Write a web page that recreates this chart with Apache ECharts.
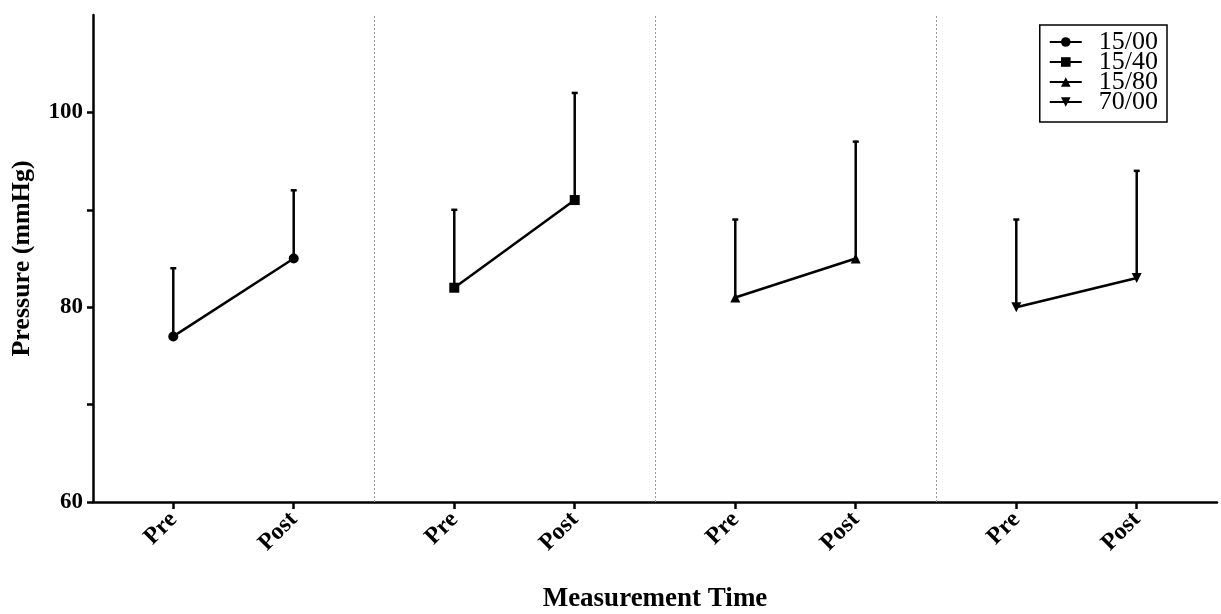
<!DOCTYPE html>
<html>
<head>
<meta charset="utf-8">
<script src="https://cdn.jsdelivr.net/npm/echarts@6/dist/echarts.min.js"></script>
<style>html,body{margin:0;padding:0;background:#fff}#c{width:1221px;height:614px}</style>
</head>
<body>
<div id="c"></div>
<script>
// categories on the x axis (blank slots act as spacing / separators)
const xCategories = ['', '', 'Pre', '', '', 'Post', '', '', '', 'Pre', '', '', 'Post', '', '', '', 'Pre', '', '', 'Post', '', '', '', 'Pre', '', '', 'Post', '', ''];
const separatorSlots = [7, 14, 21];
const groupNames = ['15/00', '15/40', '15/80', '70/00'];
const preSlot = [2, 9, 16, 23];
const postSlot = [5, 12, 19, 26];
const meanPre = [77, 82, 81, 80];
const meanPost = [85, 91, 85, 83];
const errPre = [7, 8, 8, 9];
const errPost = [7, 11, 12, 11];
const yTicks = [60, 70, 80, 90, 100];
const yLabels = [60, 80, 100];
const symbols = ['circle', 'rect', 'triangle', 'path://M0,0 L10,0 L5,9 Z'];

const FONT = '"Liberation Serif", "DejaVu Serif", serif';
const chart = echarts.init(document.getElementById('c'));

const series = [];
groupNames.forEach((name, i) => {
  series.push({
    name: name,
    type: 'line',
    data: [[preSlot[i], meanPre[i]], [postSlot[i], meanPost[i]]],
    symbol: symbols[i],
    symbolSize: 10,
    lineStyle: { color: '#000', width: 2.5 },
    itemStyle: { color: '#000' },
    z: 3,
    markLine: i === 0 ? {
      silent: true,
      symbol: 'none',
      label: { show: false },
      lineStyle: { color: '#999', type: [2, 2], width: 1 },
      data: separatorSlots.map(s => ({ xAxis: s }))
    } : undefined
  });
});

const errData = [];
groupNames.forEach((n, i) => {
  errData.push([preSlot[i], meanPre[i], meanPre[i] + errPre[i]]);
  errData.push([postSlot[i], meanPost[i], meanPost[i] + errPost[i]]);
});
series.push({
  type: 'custom',
  silent: true,
  z: 2,
  data: errData,
  encode: { x: 0, y: [1, 2] },
  renderItem: function (params, api) {
    const p0 = api.coord([api.value(0), api.value(1)]);
    const p1 = api.coord([api.value(0), api.value(2)]);
    const hw = 3;
    return {
      type: 'group',
      children: [
        { type: 'line', shape: { x1: p0[0], y1: p0[1], x2: p1[0], y2: p1[1] }, style: { stroke: '#000', lineWidth: 2.5 } },
        { type: 'line', shape: { x1: p1[0] - hw, y1: p1[1], x2: p1[0] + hw, y2: p1[1] }, style: { stroke: '#000', lineWidth: 2.5 } }
      ]
    };
  }
});

chart.setOption({
  animation: false,
  backgroundColor: '#fff',
  grid: { left: 93, right: 4, top: 15, bottom: 112, containLabel: false, outerBoundsMode: 'none' },
  legend: {
    data: groupNames,
    orient: 'vertical',
    right: 54,
    top: 25,
    borderColor: '#000',
    borderWidth: 1.5,
    padding: [4, 9, 7, 9],
    itemGap: -6,
    itemWidth: 32,
    itemHeight: 12,
    textStyle: { fontFamily: FONT, fontSize: 26, color: '#000', lineHeight: 20, padding: [0, 0, 0, 12] }
  },
  xAxis: {
    type: 'category',
    data: xCategories,
    boundaryGap: false,
    name: 'Measurement Time',
    nameLocation: 'middle',
    nameGap: 84,
    nameTextStyle: { fontFamily: FONT, fontSize: 27, fontWeight: 'bold', color: '#000' },
    axisLine: { lineStyle: { color: '#000', width: 2.5 } },
    axisTick: { show: true, length: 7, lineStyle: { color: '#000', width: 2.5 }, interval: (idx, v) => v !== '' },
    axisLabel: { interval: (idx, v) => v !== '', rotate: 45, margin: 14, fontFamily: FONT, fontSize: 24, fontWeight: 'bold', color: '#000' },
    splitLine: { show: false }
  },
  yAxis: {
    type: 'value',
    min: 60,
    max: 110,
    interval: 10,
    name: 'Pressure (mmHg)',
    nameLocation: 'middle',
    nameGap: 58,
    nameTextStyle: { fontFamily: FONT, fontSize: 26, fontWeight: 'bold', color: '#000' },
    axisLine: { show: true, lineStyle: { color: '#000', width: 2.5 } },
    axisTick: { show: true, length: 6, lineStyle: { color: '#000', width: 2.5 }, customValues: yTicks },
    axisLabel: { customValues: yLabels, margin: 10, fontFamily: FONT, fontSize: 23, fontWeight: 'bold', color: '#000' },
    splitLine: { show: false }
  },
  series: series
});
</script>
</body>
</html>
